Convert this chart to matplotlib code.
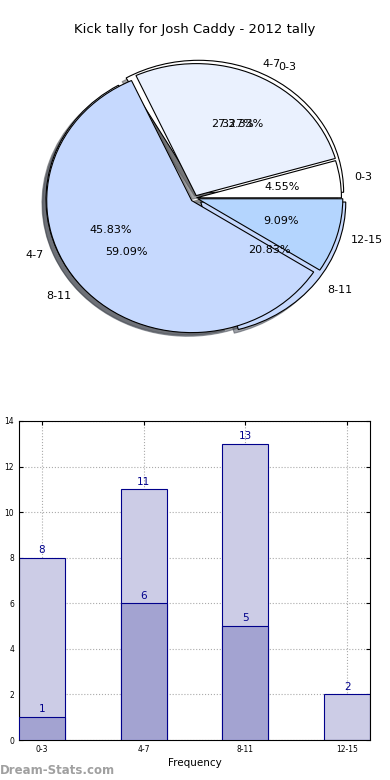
import matplotlib
matplotlib.use('Agg')
import matplotlib.pyplot as plt
import numpy as np

# data
labels_a = ['0-3', '4-7', '8-11', '12-15']
values_a = [1, 6, 13, 2]
labels_b = ['0-3', '4-7', '8-11']
values_b = [8, 11, 5]

bar_labels = ['0-3', '4-7', '8-11', '12-15']
bar_total = [8, 11, 13, 2]
bar_inner = [1, 6, 5]

pie_colors = ['white', '#eaf1fe', '#c6d9fe', '#b4d5fe']

fig = plt.figure(figsize=(3.9, 7.8), dpi=100)
fig.text(0.5, 1 - 30 / 780, 'Kick tally for Josh Caddy - 2012 tally', ha='center', va='center', fontsize=9.5)

# pie part (old style, not equal aspect)
ax1 = fig.add_axes([13.75 / 390, 0.5346, 362.5 / 390, 330 / 780])
wp = dict(edgecolor='black', linewidth=0.8)
ax1.pie(values_b, labels=labels_b, colors=pie_colors[:3], explode=[0.05, 0.03, 0.05],
        autopct='%1.2f%%', shadow=True, startangle=0, wedgeprops=wp,
        textprops=dict(fontsize=8), normalize=True)
ax1.pie(values_a, labels=labels_a, colors=pie_colors, explode=[0.01, 0.02, 0.03, 0.02],
        autopct='%1.2f%%', shadow=True, startangle=0, wedgeprops=wp,
        textprops=dict(fontsize=8), normalize=True)
ax1.set_aspect('auto')
ax1.set_xlim(-1.25, 1.25)
ax1.set_ylim(-1.25, 1.25)
ax1.axis('off')

# bar part
ax2 = fig.add_axes([19 / 390, 40 / 780, 351 / 390, 319 / 780])
x = np.arange(len(bar_labels))
ax2.bar(x, bar_total, width=0.45, color='#ccccE6', edgecolor='#00008b', linewidth=0.8, zorder=2)
ax2.bar(x[:len(bar_inner)], bar_inner, width=0.45, color='#a3a3d1', edgecolor='#00008b', linewidth=0.8, zorder=3)
for i, v in enumerate(bar_total):
    ax2.text(x[i], v + 0.12, str(v), ha='center', va='bottom', color='#00008b', fontsize=7.5, zorder=4)
for i, v in enumerate(bar_inner):
    ax2.text(x[i], v + 0.12, str(v), ha='center', va='bottom', color='#00008b', fontsize=7.5, zorder=4)

ax2.set_xlim(-0.225, 3.225)
ax2.set_ylim(0, 14)
ax2.set_yticks(range(0, 15, 2))
ax2.set_xticks(x)
ax2.set_xticklabels(bar_labels)
ax2.tick_params(labelsize=5.5, direction='in', top=True, right=True, length=3)
ax2.grid(True, linestyle=':', color='#aaaaaa', linewidth=0.8, zorder=0)
ax2.set_axisbelow(True)
ax2.set_xlabel('Frequency', fontsize=7.5, labelpad=3)
ax2.set_ylabel('Kick tally', fontsize=7.5, labelpad=4)

fig.text(0.0, 1 - 771 / 780, 'Dream-Stats.com', ha='left', va='center', color='#a0a0a0',
         fontsize=8.5, fontweight='bold')

plt.savefig('out.png', dpi=100)
